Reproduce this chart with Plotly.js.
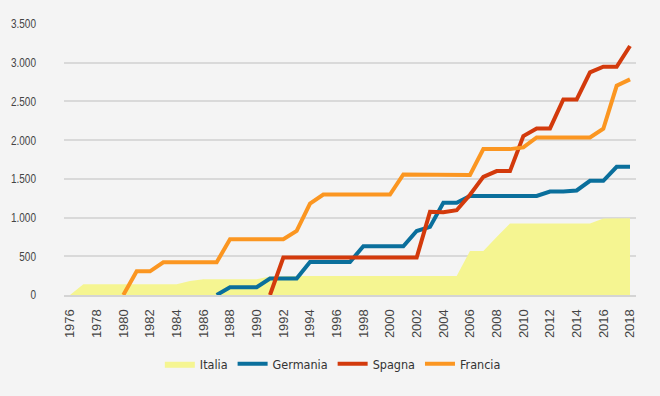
<!DOCTYPE html>
<html>
<head>
<meta charset="utf-8">
<script src="https://cdn.plot.ly/plotly-3.0.1.min.js"></script>
<style>html,body{margin:0;padding:0;background:#f4f4f4;}#chart{width:660px;height:396px;}</style>
</head>
<body>
<div id="chart"></div>
<script>
const years = [];
for (let y = 1976; y <= 2018; y++) years.push(y);

// values per year 1976..2018 (null = not yet present)
const italia = [0,138,138,138,138,138,138,138,138,181,203,203,203,203,203,240,245,245,245,245,245,245,245,245,245,245,245,245,245,245,569,569,750,923,923,923,923,923,923,923,988,990,990];
const germania = [null,null,null,null,null,null,null,null,null,null,null,0,100,100,100,212,212,212,427,427,427,427,630,630,630,630,827,879,1190,1190,1280,1280,1280,1280,1280,1280,1337,1337,1350,1474,1474,1655,1655];
const spagna = [null,null,null,null,null,null,null,null,null,null,null,null,null,null,null,0,483,483,483,483,483,483,483,483,483,483,483,1074,1068,1095,1295,1526,1600,1600,2052,2151,2151,2526,2526,2875,2948,2948,3216];
const francia = [null,null,null,null,0,306,306,423,423,423,423,423,720,720,720,720,720,827,1181,1298,1298,1298,1298,1298,1298,1557,1557,1557,1557,1557,1550,1884,1884,1884,1906,2035,2035,2035,2035,2035,2147,2702,2785];

const seriesNames = ['Italia','Germania','Spagna','Francia'];
const yTicks = [0,500,1000,1500,2000,2500,3000,3500];
const xTicks = [];
for (let y = 1976; y <= 2018; y += 2) xTicks.push(y);

const narrow = '"DejaVu Sans Condensed", "Liberation Sans Narrow", sans-serif';

const traces = [
  {x: years, y: italia, name: seriesNames[0], type: 'scatter', mode: 'lines', fill: 'tozeroy',
   fillcolor: '#f5f591', line: {width: 0, color: '#f5f591'}},
  {x: years, y: germania, name: seriesNames[1], type: 'scatter', mode: 'lines',
   line: {width: 4, color: '#0a6f9c'}},
  {x: years, y: spagna, name: seriesNames[2], type: 'scatter', mode: 'lines',
   line: {width: 4, color: '#d33a0c'}},
  {x: years, y: francia, name: seriesNames[3], type: 'scatter', mode: 'lines',
   line: {width: 4, color: '#fb9621'}}
];

const layout = {
  width: 660, height: 396,
  paper_bgcolor: '#f4f4f4', plot_bgcolor: '#f4f4f4',
  margin: {l: 64, r: 24, t: 24, b: 101},
  separators: ',.',
  showlegend: true,
  legend: {orientation: 'h', x: 0.47, xanchor: 'center', y: -0.255, yanchor: 'middle',
    font: {family: narrow, size: 12.5, color: '#333333'}, bgcolor: 'rgba(0,0,0,0)', itemwidth: 30,
    traceorder: 'normal'},
  xaxis: {range: [1975.55, 2018.45], tickvals: xTicks, ticktext: xTicks.map(String), tickangle: -90,
    showgrid: false, zeroline: false, showline: true, linecolor: '#d4d4d4', linewidth: 2,
    ticks: '', ticklabelstandoff: 7,
    tickfont: {family: 'Liberation Sans, Arial, sans-serif', size: 13, color: '#444444'}},
  yaxis: {range: [0, 3500], tickvals: yTicks, tickformat: ',d', showgrid: true, gridcolor: '#d9d9d9', gridwidth: 2,
    zeroline: false, showline: false, ticks: '', ticklabelstandoff: 27,
    tickfont: {family: 'Liberation Sans, Arial, sans-serif', size: 12.5, color: '#444444'}},
  font: {family: narrow}
};

Plotly.newPlot('chart', traces, layout, {displayModeBar: false, staticPlot: true}).then(function () {
  // narrow the y tick labels (reference uses a condensed face)
  document.querySelectorAll('#chart .ytick text').forEach(function (t) {
    const w = t.getComputedTextLength();
    t.setAttribute('textLength', (w * 0.8).toFixed(2));
    t.setAttribute('lengthAdjust', 'spacingAndGlyphs');
  });
});
</script>
</body>
</html>
